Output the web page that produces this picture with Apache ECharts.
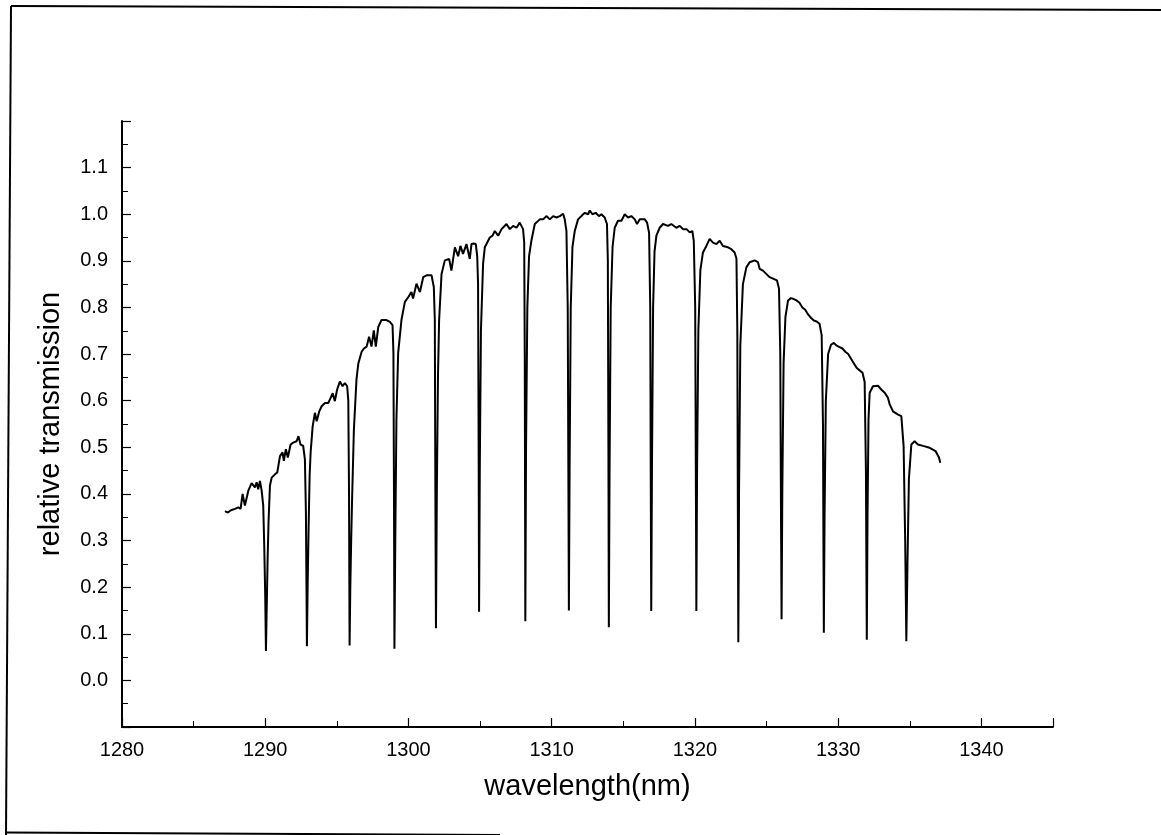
<!DOCTYPE html>
<html>
<head>
<meta charset="utf-8">
<script src="https://cdn.jsdelivr.net/npm/echarts@6/dist/echarts.min.js"></script>
<style>
html,body{margin:0;padding:0;background:#fff;}
#chart{width:1161px;height:835px;}
</style>
</head>
<body>
<div id="chart"></div>
<script>
// wavelength (nm)
var wavelength = [
1287.19,1287.40,1287.60,1287.89,1288.12,1288.28,1288.42,1288.58,1288.82,1289.05,1289.28,1289.40,1289.51,1289.63,1289.75,1289.86,1289.93,1290.00,1290.05,1290.10,1290.16,1290.23,1290.33,1290.45,1290.68,1290.84,1291.03,1291.21,1291.30,1291.44,1291.58,1291.77,1291.95,1292.19,1292.32,1292.46,1292.65,1292.77,1292.84,1292.88,1292.91,1292.96,1293.03,1293.10,1293.17,1293.31,1293.47,1293.59,1293.77,1293.94,1294.17,1294.40,1294.55,1294.71,1294.86,1295.02,1295.21,1295.40,1295.56,1295.72,1295.80,1295.85,1295.89,1295.94,1296.00,1296.07,1296.19,1296.37,1296.50,1296.73,1296.89,1297.08,1297.25,1297.42,1297.58,1297.72,1297.89,1298.12,1298.47,1298.70,1298.89,1298.95,1298.99,1299.02,1299.08,1299.16,1299.28,1299.51,1299.75,1299.98,1300.21,1300.32,1300.56,1300.80,1301.03,1301.26,1301.61,1301.77,1301.84,1301.88,1301.92,1301.98,1302.06,1302.14,1302.31,1302.54,1302.65,1302.84,1303.00,1303.24,1303.47,1303.63,1303.81,1304.05,1304.28,1304.40,1304.55,1304.70,1304.80,1304.86,1304.90,1304.93,1304.98,1305.06,1305.21,1305.33,1305.44,1305.68,1305.87,1306.03,1306.26,1306.50,1306.84,1307.08,1307.31,1307.54,1307.77,1308.00,1308.08,1308.12,1308.16,1308.21,1308.30,1308.42,1308.58,1308.82,1309.17,1309.40,1309.63,1309.87,1310.10,1310.33,1310.57,1310.80,1310.91,1311.03,1311.12,1311.17,1311.20,1311.25,1311.33,1311.45,1311.61,1311.84,1312.07,1312.31,1312.54,1312.66,1312.84,1313.07,1313.30,1313.47,1313.70,1313.86,1313.92,1313.96,1313.99,1314.04,1314.12,1314.25,1314.40,1314.63,1314.87,1315.10,1315.33,1315.56,1315.80,1315.96,1316.15,1316.50,1316.66,1316.80,1316.88,1316.92,1316.95,1317.00,1317.08,1317.18,1317.31,1317.54,1317.77,1318.12,1318.35,1318.70,1318.94,1319.17,1319.41,1319.64,1319.82,1319.92,1320.02,1320.07,1320.10,1320.15,1320.24,1320.38,1320.56,1320.80,1321.03,1321.26,1321.50,1321.73,1321.96,1322.31,1322.54,1322.77,1322.90,1322.96,1323.00,1323.03,1323.08,1323.17,1323.35,1323.59,1323.82,1324.17,1324.40,1324.52,1324.75,1324.98,1325.22,1325.45,1325.73,1325.87,1325.96,1326.01,1326.05,1326.10,1326.19,1326.32,1326.50,1326.70,1326.90,1327.10,1327.30,1327.50,1327.70,1327.90,1328.10,1328.30,1328.50,1328.70,1328.85,1328.94,1328.98,1329.00,1329.05,1329.14,1329.30,1329.50,1329.70,1329.90,1330.10,1330.30,1330.50,1330.70,1330.90,1331.10,1331.30,1331.50,1331.70,1331.85,1331.94,1331.98,1332.00,1332.05,1332.12,1332.20,1332.43,1332.78,1333.01,1333.25,1333.48,1333.60,1333.83,1334.18,1334.41,1334.57,1334.68,1334.76,1334.84,1334.94,1335.11,1335.34,1335.57,1335.92,1336.39,1336.80,1337.04,1337.13
];
// relative transmission
var transmission = [
0.363,0.360,0.365,0.368,0.371,0.368,0.400,0.375,0.407,0.423,0.414,0.425,0.410,0.428,0.407,0.375,0.290,0.180,0.063,0.150,0.250,0.340,0.418,0.435,0.442,0.446,0.481,0.489,0.471,0.496,0.478,0.506,0.510,0.513,0.524,0.506,0.503,0.474,0.361,0.200,0.073,0.200,0.330,0.440,0.489,0.545,0.574,0.556,0.577,0.588,0.595,0.595,0.605,0.616,0.599,0.624,0.641,0.631,0.638,0.631,0.600,0.400,0.075,0.200,0.300,0.396,0.538,0.645,0.680,0.705,0.712,0.716,0.737,0.716,0.751,0.716,0.758,0.773,0.773,0.769,0.762,0.702,0.400,0.068,0.300,0.560,0.702,0.773,0.812,0.822,0.833,0.819,0.851,0.833,0.865,0.869,0.869,0.844,0.773,0.400,0.112,0.400,0.650,0.773,0.872,0.901,0.904,0.904,0.879,0.929,0.910,0.932,0.915,0.936,0.904,0.936,0.937,0.936,0.910,0.850,0.500,0.147,0.450,0.750,0.894,0.929,0.929,0.950,0.954,0.964,0.954,0.968,0.979,0.968,0.975,0.971,0.982,0.968,0.940,0.700,0.127,0.500,0.800,0.910,0.943,0.979,0.989,0.989,0.996,0.989,0.996,0.993,0.996,1.001,0.989,0.964,0.800,0.400,0.150,0.450,0.800,0.930,0.964,0.989,0.996,1.003,1.000,1.008,1.000,1.003,0.996,1.000,0.993,0.979,0.900,0.500,0.114,0.450,0.800,0.930,0.971,0.986,0.986,1.000,0.993,0.996,0.989,0.979,0.989,0.989,0.982,0.960,0.800,0.400,0.149,0.450,0.800,0.920,0.954,0.971,0.979,0.975,0.979,0.971,0.975,0.968,0.968,0.961,0.964,0.943,0.800,0.400,0.149,0.450,0.750,0.880,0.918,0.932,0.947,0.939,0.936,0.943,0.932,0.929,0.925,0.918,0.905,0.750,0.350,0.082,0.400,0.720,0.850,0.886,0.897,0.901,0.897,0.883,0.879,0.872,0.865,0.862,0.858,0.840,0.700,0.350,0.131,0.400,0.680,0.780,0.815,0.820,0.818,0.815,0.810,0.800,0.795,0.785,0.778,0.772,0.770,0.765,0.740,0.550,0.250,0.102,0.350,0.600,0.700,0.720,0.724,0.718,0.715,0.712,0.705,0.700,0.690,0.680,0.670,0.665,0.660,0.640,0.450,0.200,0.087,0.350,0.560,0.617,0.631,0.632,0.624,0.617,0.606,0.592,0.577,0.570,0.567,0.503,0.300,0.084,0.250,0.432,0.506,0.513,0.506,0.503,0.499,0.492,0.478,0.467
];
// axis tick labels shown
var xTickLabels = ['1280','1290','1300','1310','1320','1330','1340'];
var yTickLabels = ['0.0','0.1','0.2','0.3','0.4','0.5','0.6','0.7','0.8','0.9','1.0','1.1'];

var points = wavelength.map(function (w, i) { return [w, transmission[i]]; });

var chart = echarts.init(document.getElementById('chart'), null, {renderer: 'canvas'});
var font = '"Liberation Sans", Arial, Helvetica, sans-serif';
chart.setOption({
  animation: false,
  backgroundColor: '#ffffff',
  grid: {left: 122, right: 108, top: 121, bottom: 108, containLabel: false},
  xAxis: {
    type: 'value', min: 1280, max: 1345, interval: 10,
    name: 'wavelength(nm)', nameLocation: 'middle', nameGap: 45,
    nameTextStyle: {fontFamily: font, fontSize: 29, color: '#000'},
    axisLine: {show: true, onZero: false, lineStyle: {color: '#000', width: 2}},
    axisTick: {show: true, inside: true, length: 9, lineStyle: {color: '#000', width: 1.2}},
    minorTick: {show: true, splitNumber: 2, length: 6, lineStyle: {color: '#000', width: 1}},
    splitLine: {show: false}, minorSplitLine: {show: false},
    axisLabel: {
      fontFamily: font, fontSize: 20, color: '#000', margin: 13,
      formatter: function (v) { var s = String(Math.round(v)); return xTickLabels.indexOf(s) >= 0 && Math.abs(v - Math.round(v)) < 1e-6 ? s : ''; }
    }
  },
  yAxis: {
    type: 'value', min: -0.1, max: 1.2, interval: 0.1,
    name: 'relative transmission', nameLocation: 'middle', nameGap: 57, nameRotate: 90,
    nameTextStyle: {fontFamily: font, fontSize: 29, color: '#000'},
    axisLine: {show: true, onZero: false, lineStyle: {color: '#000', width: 2}},
    axisTick: {show: true, inside: true, length: 9, lineStyle: {color: '#000', width: 1.2}},
    minorTick: {show: true, splitNumber: 2, length: 6, lineStyle: {color: '#000', width: 1}},
    splitLine: {show: false}, minorSplitLine: {show: false},
    axisLabel: {
      fontFamily: font, fontSize: 20, color: '#000', margin: 14,
      formatter: function (v) { var s = v.toFixed(1); if (s === '-0.0') s = '0.0'; return yTickLabels.indexOf(s) >= 0 ? s : ''; }
    }
  },
  series: [{
    type: 'line', data: points, showSymbol: false, smooth: false,
    lineStyle: {color: '#000', width: 2}, z: 3
  }],
  graphic: [
    {type: 'line', shape: {x1: 11, y1: 6, x2: 1161, y2: 10}, style: {stroke: '#000', lineWidth: 2}},
    {type: 'line', shape: {x1: 11, y1: 6, x2: 6, y2: 835}, style: {stroke: '#000', lineWidth: 2}},
    {type: 'line', shape: {x1: 6, y1: 832.5, x2: 500, y2: 835}, style: {stroke: '#000', lineWidth: 2}}
  ]
});
</script>
</body>
</html>
